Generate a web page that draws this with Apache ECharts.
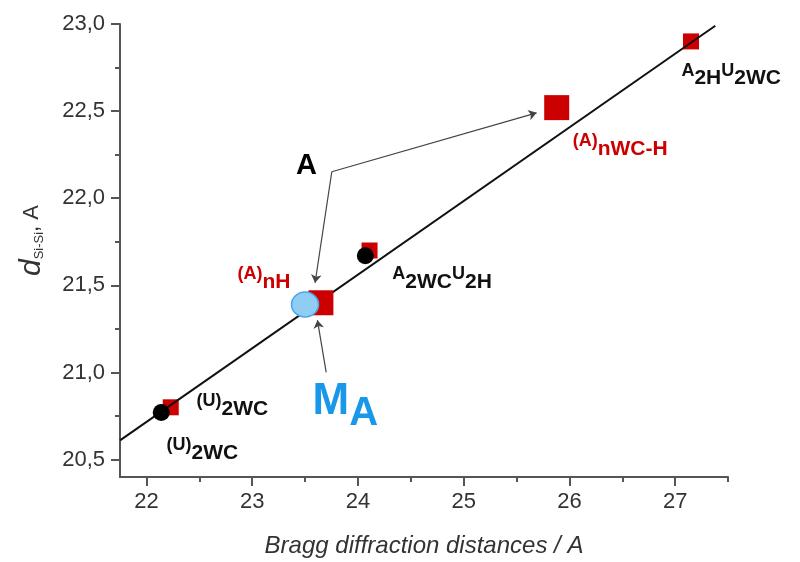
<!DOCTYPE html>
<html>
<head>
<meta charset="utf-8">
<script src="https://cdn.jsdelivr.net/npm/echarts@6/dist/echarts.min.js"></script>
<style>
html,body{margin:0;padding:0;background:#fff;}
#chart{width:800px;height:562px;}
</style>
</head>
<body>
<div id="chart"></div>
<script>
// axis ticks
var xTicks = [22, 23, 24, 25, 26, 27];
var xMinorTicks = [22.5, 23.5, 24.5, 25.5, 26.5, 27.5];
var yTicks = [20.5, 21.0, 21.5, 22.0, 22.5, 23.0];
var yTickLabels = ['20,5', '21,0', '21,5', '22,0', '22,5', '23,0'];
var yMinorTicks = [20.75, 21.25, 21.75, 22.25, 22.75];

// small red squares
var smallSqX = [22.23, 24.11, 27.15];
var smallSqY = [20.80, 21.70, 22.90];
// big red squares
var bigSqX = [23.65, 25.88];
var bigSqY = [21.40, 22.52];
// black circles
var circX = [22.14, 24.07];
var circY = [20.77, 21.67];
// M_A point
var maX = [23.50];
var maY = [21.39];
// linear fit
var fitX = [21.75, 27.38];
var fitY = [20.61, 22.99];

// arrows
var arrowFrom = [[23.753, 22.152], [23.753, 22.152], [23.70, 21.00]];
var arrowTo = [[25.69, 22.49], [23.595, 21.515], [23.617, 21.30]];

// text notes (left edge, middle)
var noteX = [23.42, 22.866, 24.33, 26.036, 27.064, 22.478, 22.195, 23.576];
var noteY = [22.18, 21.54, 21.539, 22.30, 22.707, 20.81, 20.555, 20.793];
var noteText = [
	'{big|A}',
	'{rsup|(A)}{rsub|nH}',
	'{bsup|A}{bsub|2WC}{bsup|U}{bsub|2H}',
	'{rsup|(A)}{rsub|nWC-H}',
	'{bsup|A}{bsub|2H}{bsup|U}{bsub|2WC}',
	'{bsup|(U)}{bsub|2WC}',
	'{bsup|(U)}{bsub|2WC}',
	'{mM|M}{mA|A}'
];

function pairs(xs, ys){
	var out = [];
	for(var i=0;i<xs.length;i++){
		out.push([xs[i], ys[i]]);
	}
	return out;
}

var FONT = '"Liberation Sans", Arial, sans-serif';
var RED = '#cc0000';
var INK = '#111';
var BLUE = '#1a98e8';

var notes = [];
for(var k=0;k<noteX.length;k++){
	notes.push({value:[noteX[k], noteY[k]], label:{formatter:noteText[k]}});
}
var arrows = [];
for(var a=0;a<arrowFrom.length;a++){
	arrows.push({coords:[arrowFrom[a], arrowTo[a]]});
}

var myChart = echarts.init(document.getElementById('chart'));

option = {
	animation:false,
	backgroundColor:'#fff',
	grid:{left:120, right:72, top:24, bottom:85, outerBoundsMode:'none'},
	xAxis:[
		{
			type:'value', min:21.75, max:27.5,
			name:'Bragg diffraction distances / A',
			nameLocation:'middle', nameGap:57,
			nameTextStyle:{fontFamily:FONT, fontSize:24, fontStyle:'italic', color:'#333'},
			axisLine:{show:true, lineStyle:{color:'#555', width:2}},
			splitLine:{show:false},
			axisTick:{show:true, length:9, customValues:xTicks, lineStyle:{color:'#555', width:2}},
			axisLabel:{customValues:xTicks, margin:14, fontFamily:FONT, fontSize:22, color:'#333'}
		},
		{
			type:'value', min:21.75, max:27.5, position:'bottom',
			axisLine:{show:false}, splitLine:{show:false}, axisLabel:{show:false},
			axisTick:{show:true, length:5, customValues:xMinorTicks, lineStyle:{color:'#555', width:2}}
		}
	],
	yAxis:[
		{
			type:'value', min:20.4, max:23.0,
			name:'{d|d}{s|Si-Si}{n|, A}',
			nameLocation:'middle', nameGap:73,
			nameTextStyle:{
				padding:[0,0,0,20],
				rich:{
					d:{fontFamily:FONT, fontSize:30, fontStyle:'italic', color:'#333'},
					s:{fontFamily:FONT, fontSize:13, color:'#333', padding:[14,0,0,0]},
					n:{fontFamily:FONT, fontSize:22, color:'#333'}
				}
			},
			axisLine:{show:true, lineStyle:{color:'#555', width:2}},
			splitLine:{show:false},
			axisTick:{show:true, length:9, customValues:yTicks, lineStyle:{color:'#555', width:2}},
			axisLabel:{
				customValues:yTicks, margin:15, fontFamily:FONT, fontSize:22, color:'#333',
				formatter:function(v){
					for(var i=0;i<yTicks.length;i++){
						if(Math.abs(v - yTicks[i]) < 1e-6){
							return yTickLabels[i];
						}
					}
					return '';
				}
			}
		},
		{
			type:'value', min:20.4, max:23.0, position:'left',
			axisLine:{show:false}, splitLine:{show:false}, axisLabel:{show:false},
			axisTick:{show:true, length:5, customValues:yMinorTicks, lineStyle:{color:'#555', width:2}}
		}
	],
	series:[
		{
			name:'small', type:'scatter', symbol:'rect', symbolSize:16, z:2,
			itemStyle:{color:RED, opacity:1}, data:pairs(smallSqX, smallSqY)
		},
		{
			name:'fit', type:'line', showSymbol:false, z:3,
			lineStyle:{color:'#111', width:2}, data:pairs(fitX, fitY)
		},
		{
			name:'circles', type:'scatter', symbol:'circle', symbolSize:17, z:4,
			itemStyle:{color:'#000', opacity:1}, data:pairs(circX, circY)
		},
		{
			name:'big', type:'scatter', symbol:'rect', symbolSize:25, z:5,
			itemStyle:{color:RED, opacity:1}, data:pairs(bigSqX, bigSqY)
		},
		{
			name:'MA', type:'scatter', symbol:'circle', symbolSize:[27,25], z:6,
			itemStyle:{color:'#8fcdf5', borderColor:'#4aa6e6', borderWidth:1.5, opacity:1}, data:pairs(maX, maY)
		},
		{
			name:'arrows', type:'lines', coordinateSystem:'cartesian2d', z:7,
			symbol:['none','arrow'], symbolSize:8,
			lineStyle:{color:'#444', width:1.2, opacity:1}, data:arrows
		},
		{
			name:'notes', type:'scatter', symbolSize:1, z:8, clip:false, silent:true,
			itemStyle:{color:'rgba(0,0,0,0)', opacity:1},
			label:{
				show:true, position:[0,0], align:'left', verticalAlign:'middle', opacity:1,
				rich:{
					big:{fontFamily:FONT, fontSize:29, fontWeight:'bold', color:'#000'},
					bsup:{fontFamily:FONT, fontSize:18, fontWeight:'bold', color:INK, padding:[0,0,8,0]},
					bsub:{fontFamily:FONT, fontSize:21, fontWeight:'bold', color:INK, padding:[8,0,0,0]},
					rsup:{fontFamily:FONT, fontSize:18, fontWeight:'bold', color:RED, padding:[0,0,8,0]},
					rsub:{fontFamily:FONT, fontSize:21, fontWeight:'bold', color:RED, padding:[8,0,0,0]},
					mM:{fontFamily:FONT, fontSize:44, fontWeight:'bold', color:BLUE, padding:[0,0,12,0]},
					mA:{fontFamily:FONT, fontSize:40, fontWeight:'bold', color:BLUE, padding:[12,0,0,0]}
				}
			},
			data:notes
		}
	]
};
myChart.setOption(option);
</script>
</body>
</html>
